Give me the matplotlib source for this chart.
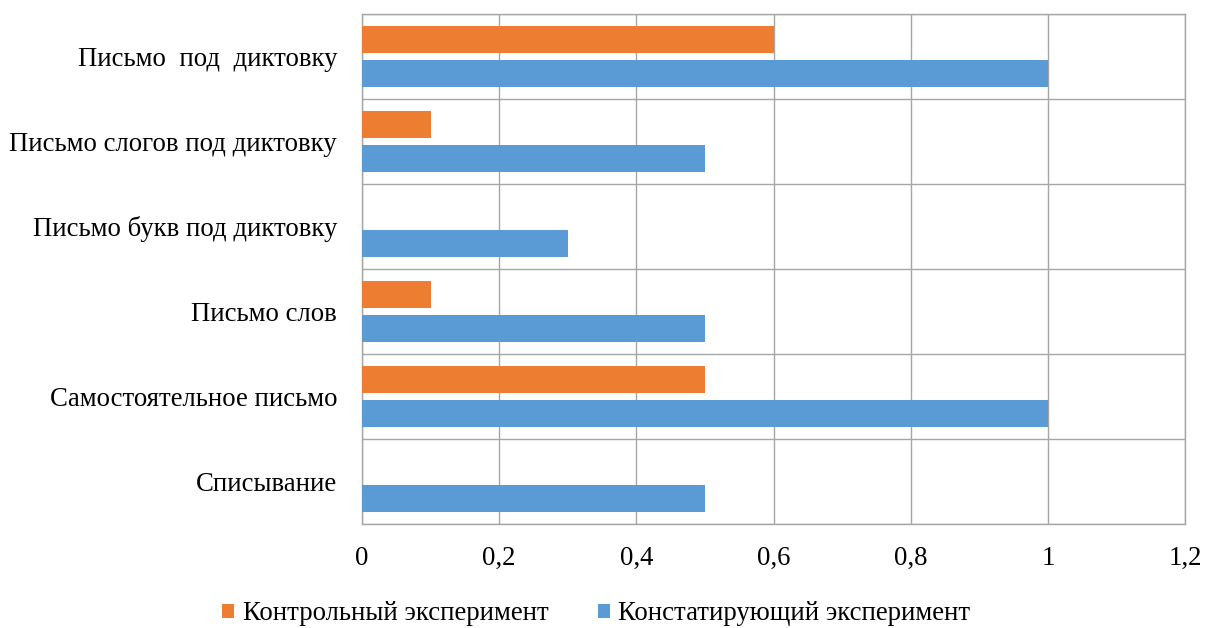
import numpy as np
import matplotlib.pyplot as plt

plt.rcParams['font.family'] = ['Liberation Serif', 'DejaVu Serif']

categories = ["Письмо  под  диктовку", "Письмо слогов под диктовку", "Письмо букв под диктовку",
              "Письмо слов", "Самостоятельное письмо", "Списывание"]
control = [0.6, 0.1, 0, 0.1, 0.5, 0]
constat = [1, 0.5, 0.3, 0.5, 1, 0.5]
xticks = [0, 0.2, 0.4, 0.6, 0.8, 1, 1.2]
xtick_labels = ["0", "0,2", "0,4", "0,6", "0,8", "1", "1,2"]

orange = '#ed7d31'
blue = '#5b9bd5'
grid_c = '#a6a6a6'

fig = plt.figure(figsize=(12.07, 6.28), dpi=100)
ax = fig.add_axes([362/1207, 1 - 524/628, (1185-362)/1207, (524-14)/628])

y = np.arange(len(categories))
h = 0.32
ax.barh(y - 0.2, control, height=h, color=orange, label="Контрольный эксперимент", zorder=3)
ax.barh(y + 0.2, constat, height=h, color=blue, label="Констатирующий эксперимент", zorder=3)

ax.set_ylim(len(categories) - 0.5, -0.5)
ax.set_xlim(0, 1.2)
ax.set_yticks(y)
ax.set_yticklabels(categories, fontsize=19.3)
ax.set_xticks(xticks)
ax.set_xticklabels(xtick_labels, fontsize=19.3)
ax.tick_params(length=0)
ax.tick_params(axis='y', pad=18)
ax.tick_params(axis='x', pad=16)

# сетка по границам категорий
for b in np.arange(-0.5, len(categories), 1):
    ax.axhline(b, color=grid_c, lw=1, zorder=1)
ax.grid(axis='x', color=grid_c, lw=1, zorder=1)
for s in ax.spines.values():
    s.set_color(grid_c)
    s.set_linewidth(1)

fig.legend(loc='center', bbox_to_anchor=(0.494, 1 - 614/628), ncol=2, frameon=False,
           fontsize=19.3, handlelength=0.45, handleheight=0.45, handletextpad=0.3,
           columnspacing=1.85)

fig.savefig('out.png', dpi=100)
